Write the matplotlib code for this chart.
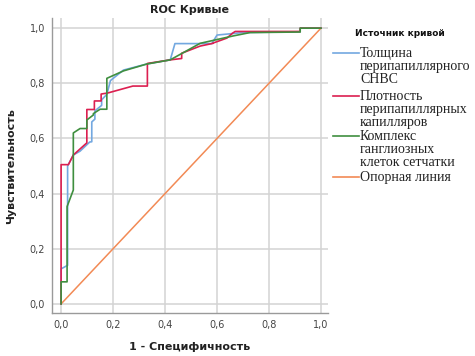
import matplotlib
matplotlib.use("Agg")
import matplotlib.pyplot as plt
from matplotlib.lines import Line2D

# ---- data ----
blue_x = [0, 0, 0.025, 0.025, 0.047, 0.073, 0.11, 0.118, 0.118, 0.13, 0.13, 0.156, 0.156,
          0.176, 0.19, 0.24, 0.33, 0.42, 0.438, 0.58, 0.60, 0.70, 0.92, 0.92, 1.0]
blue_y = [0, 0.127, 0.14, 0.50, 0.54, 0.554, 0.587, 0.588, 0.66, 0.67, 0.70, 0.72, 0.74,
          0.76, 0.81, 0.848, 0.87, 0.885, 0.944, 0.944, 0.975, 0.984, 0.987, 1.0, 1.0]

red_x = [0, 0, 0.028, 0.047, 0.099, 0.099, 0.128, 0.128, 0.154, 0.154, 0.18, 0.276, 0.332,
         0.332, 0.42, 0.464, 0.464, 0.535, 0.585, 0.585, 0.638, 0.66, 0.67, 0.92, 0.92, 1.0]
red_y = [0, 0.505, 0.505, 0.54, 0.584, 0.705, 0.705, 0.736, 0.736, 0.761, 0.765, 0.79, 0.79,
         0.872, 0.885, 0.89, 0.909, 0.935, 0.945, 0.946, 0.964, 0.982, 0.988, 0.988, 1.0, 1.0]

green_x = [0, 0, 0.023, 0.023, 0.047, 0.047, 0.073, 0.099, 0.099, 0.124, 0.124, 0.15, 0.176,
           0.176, 0.24, 0.33, 0.42, 0.535, 0.663, 0.727, 0.92, 0.92, 1.0]
green_y = [0, 0.08, 0.08, 0.353, 0.413, 0.62, 0.636, 0.636, 0.667, 0.685, 0.69, 0.706, 0.706,
           0.818, 0.845, 0.87, 0.885, 0.945, 0.972, 0.984, 0.986, 1.0, 1.0]

ref_x = [0, 1]
ref_y = [0, 1]

series_labels = ["Толщина\nперипапиллярного\nСНВС",
                 "Плотность\nперипапиллярных\nкапилляров",
                 "Комплекс\nганглиозных\nклеток сетчатки",
                 "Опорная линия"]
ticks = [0.0, 0.2, 0.4, 0.6, 0.8, 1.0]
tick_labels = ["0,0", "0,2", "0,4", "0,6", "0,8", "1,0"]

colors = ["#73A8E0", "#DC1F50", "#3F8F3F", "#F28A55"]

fig = plt.figure(figsize=(4.75, 3.56), dpi=100)
ax = fig.add_axes([0.1095, 0.1208, 0.581, 0.828])

ax.plot(blue_x, blue_y, color=colors[0], lw=1.2, zorder=3)
ax.plot(red_x, red_y, color=colors[1], lw=1.2, zorder=4)
ax.plot(green_x, green_y, color=colors[2], lw=1.2, zorder=5)
ax.plot(ref_x, ref_y, color=colors[3], lw=1.1, zorder=2)

ax.set_xlim(-0.035, 1.027)
ax.set_ylim(-0.033, 1.036)
ax.set_xticks(ticks)
ax.set_yticks(ticks)
ax.set_xticklabels(tick_labels, fontsize=7, color="#444444")
ax.set_yticklabels(tick_labels, fontsize=7, color="#444444")
ax.tick_params(length=0, pad=5)
ax.grid(True, color="#D3D3D3", lw=1.1)
ax.set_axisbelow(True)
for s in ["top", "right"]:
    ax.spines[s].set_visible(False)
for s in ["left", "bottom"]:
    ax.spines[s].set_color("#9A9A9A")
    ax.spines[s].set_linewidth(1.0)

fig.text(0.40, 0.972, "ROC Кривые", ha="center", va="center", fontsize=8,
         fontweight="bold", color="#222222")
ax.set_xlabel("1 - Специфичность", fontsize=8, fontweight="bold", labelpad=9, color="#222222")
ax.set_ylabel("Чувствительность", fontsize=8, fontweight="bold", labelpad=10, color="#222222")

# legend
fig.text(400 / 475, 1 - 33 / 356, "Источник кривой", ha="center", va="center",
         fontsize=6.5, fontweight="bold", color="#111111")
ys = [53, 96, 136, 177]
for lab, c, y in zip(series_labels, colors, ys):
    yf = 1 - y / 356
    fig.add_artist(Line2D([333 / 475, 359 / 475], [yf, yf], color=c, lw=1.2,
                          transform=fig.transFigure))
    fig.text(360 / 475, yf + 6.5 / 356, lab, ha="left", va="top", fontsize=10,
             family="Liberation Serif", linespacing=1.03, color="#222222")

fig.savefig("out.png", dpi=100)
